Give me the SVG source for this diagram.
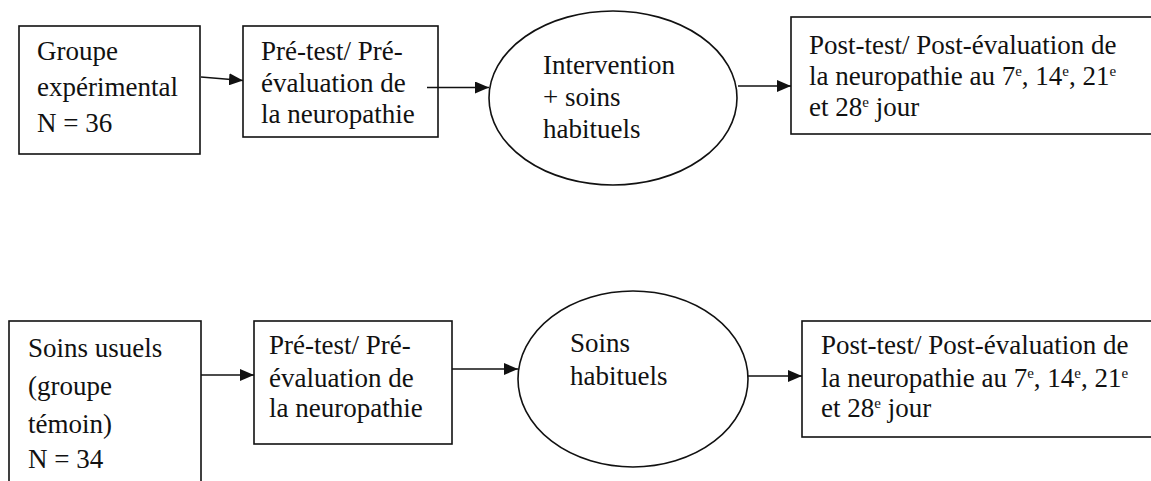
<svg xmlns="http://www.w3.org/2000/svg" width="1151" height="481" viewBox="0 0 1151 481">
<style>
.box{fill:#fff;stroke:#111;stroke-width:1.6}
.t{font-family:'Liberation Serif','Times New Roman',serif;font-size:27px;fill:#111}
.sup{font-size:15px}
.c{stroke:#111;stroke-width:1.6;fill:none}
</style>
<defs>
<marker id="ah" markerUnits="userSpaceOnUse" markerWidth="14" markerHeight="12" refX="14" refY="6" orient="auto">
<path d="M0,0 L14,6 L0,12 Z" fill="#111"/>
</marker>
</defs>
<rect width="1151" height="481" fill="#fff"/>
<g id="groupe-experimental">
<rect class="box" x="19" y="26" width="181" height="128"/>
<text class="t" x="37" y="60">Groupe</text>
<text class="t" x="37" y="96">expérimental</text>
<text class="t" x="37" y="132">N = 36</text>
</g>
<g id="pretest-1">
<rect class="box" x="243" y="26" width="195" height="111"/>
<text class="t" x="261" y="60">Pré-test/ Pré-</text>
<text class="t" x="261" y="92">évaluation de</text>
<text class="t" x="261" y="123">la neuropathie</text>
</g>
<g id="intervention">
<ellipse class="box" cx="613" cy="98" rx="124" ry="87"/>
<text class="t" x="543" y="74">Intervention</text>
<text class="t" x="543" y="106">+ soins</text>
<text class="t" x="543" y="138">habituels</text>
</g>
<g id="posttest-1">
<rect class="box" x="791" y="17" width="370" height="117"/>
<text class="t" x="809" y="54">Post-test/ Post-évaluation de</text>
<text class="t" x="809" y="85">la neuropathie au 7<tspan class="sup" dy="-9">e</tspan><tspan dy="9">, 14</tspan><tspan class="sup" dy="-9">e</tspan><tspan dy="9">, 21</tspan><tspan class="sup" dy="-9">e</tspan></text>
<text class="t" x="809" y="116">et 28<tspan class="sup" dy="-9">e</tspan><tspan dy="9"> jour</tspan></text>
</g>
<g id="soins-usuels">
<rect class="box" x="9" y="321" width="192" height="180"/>
<text class="t" x="28" y="357">Soins usuels</text>
<text class="t" x="28" y="395">(groupe</text>
<text class="t" x="28" y="433">témoin)</text>
<text class="t" x="28" y="468">N = 34</text>
</g>
<g id="pretest-2">
<rect class="box" x="254" y="321" width="198" height="123"/>
<text class="t" x="269" y="354">Pré-test/ Pré-</text>
<text class="t" x="269" y="387">évaluation de</text>
<text class="t" x="269" y="417">la neuropathie</text>
</g>
<g id="soins-habituels">
<ellipse class="box" cx="633" cy="379" rx="115" ry="88"/>
<text class="t" x="570" y="352">Soins</text>
<text class="t" x="570" y="385">habituels</text>
</g>
<g id="posttest-2">
<rect class="box" x="802" y="321" width="360" height="116"/>
<text class="t" x="821" y="354">Post-test/ Post-évaluation de</text>
<text class="t" x="821" y="387">la neuropathie au 7<tspan class="sup" dy="-9">e</tspan><tspan dy="9">, 14</tspan><tspan class="sup" dy="-9">e</tspan><tspan dy="9">, 21</tspan><tspan class="sup" dy="-9">e</tspan></text>
<text class="t" x="821" y="417">et 28<tspan class="sup" dy="-9">e</tspan><tspan dy="9"> jour</tspan></text>
</g>
<g id="connectors">
<line class="c" x1="201" y1="77" x2="243" y2="80.5" marker-end="url(#ah)"/>
<line class="c" x1="427" y1="87.5" x2="489" y2="87.5" marker-end="url(#ah)"/>
<line class="c" x1="738" y1="86" x2="791" y2="86" marker-end="url(#ah)"/>
<line class="c" x1="201" y1="375" x2="254" y2="375" marker-end="url(#ah)"/>
<line class="c" x1="452" y1="369" x2="518" y2="369" marker-end="url(#ah)"/>
<line class="c" x1="748" y1="376" x2="802" y2="376" marker-end="url(#ah)"/>
</g>
</svg>
